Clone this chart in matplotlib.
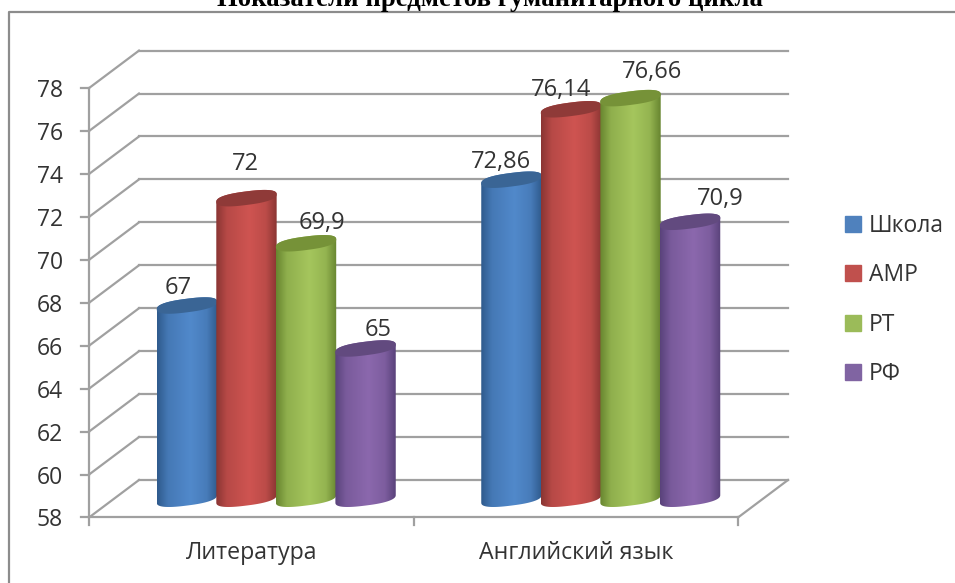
import numpy as np
import matplotlib
matplotlib.use("Agg")
import matplotlib.pyplot as plt
from matplotlib.lines import Line2D
from matplotlib.patches import Patch, Polygon
from matplotlib.colors import to_rgb

# Данные диаграммы
categories = ["Литература", "Английский язык"]
series_names = ["Школа", "АМР", "РТ", "РФ"]
shkola = [67, 72.86]
amr = [72, 76.14]
rt = [69.9, 76.66]
rf = [65, 70.9]
value_labels = [["67", "72,86"], ["72", "76,14"], ["69,9", "76,66"], ["65", "70,9"]]
y_ticks = [58, 60, 62, 64, 66, 68, 70, 72, 74, 76, 78]

title = "Показатели предметов гуманитарного цикла"

# Цвета: легенда, край, середина цилиндра, крышка
legend_colors = ["#4f81bd", "#c0504d", "#9bbb59", "#8064a2"]
dark_colors = ["#2f5a8c", "#8a3533", "#67852f", "#59427a"]
light_colors = ["#5189cb", "#cf5451", "#a5c65d", "#8b68ad"]
top_colors = ["#3a6595", "#8f3a38", "#769238", "#624a7f"]

# Сдвиг подписей над столбцами, в пикселях
label_shift = [
    [(-9, 18), (-10, 18)],
    [(-1, 34), (-10, 19)],
    [(16, 20), (21, 26)],
    [(13, 18), (30, 23)],
]

PX_X = 324.5  # пикселей на категорию
PX_Y = 21.47  # пикселей на единицу значения
X0, Y0 = 89, 517.5  # начало оси на картинке
DX = 50 / PX_X  # глубина
DY = 37.5 / PX_Y
BAR_STEP = 0.1835
BAR_W = 0.186
ELL_H = 6.8 / PX_Y
SHEAR = 3.8 / PX_Y
ROUND = 0.8  # крышка чуть квадратнее эллипса
GRID = "#a0a0a0"
TXT = "#333333"

plt.rcParams["font.family"] = ["Open Sans", "DejaVu Sans"]

fig = plt.figure(figsize=(9.55, 5.83), dpi=100)
ax = fig.add_axes([0, 0, 1, 1])
ax.set_axis_off()
xlim = (-X0 / PX_X, (955 - X0) / PX_X)
ylim = (58 - (583 - Y0) / PX_Y, 58 + Y0 / PX_Y)

# Стенки и сетка
for v in y_ticks:
    ax.plot([DX, 2 + DX], [v + DY, v + DY], color=GRID, lw=1.6, zorder=1)
    ax.plot([0, DX], [v, v + DY], color=GRID, lw=1.6, zorder=1)
    ax.plot([-8 / PX_X, 0], [v, v], color=GRID, lw=1.6, zorder=1)
    ax.text(-26 / PX_X, v, str(v), ha="right", va="center_baseline",
            fontsize=16.5, color=TXT)
ax.plot([0, 0], [58 - 8 / PX_Y, 78], color=GRID, lw=1.6, zorder=1)
ax.plot([0, 2], [58, 58], color=GRID, lw=1.6, zorder=1)
ax.plot([2, 2 + DX], [58, 58 + DY], color=GRID, lw=1.6, zorder=1)
for c in [1, 2]:
    ax.plot([c, c], [58 - 8 / PX_Y, 58], color=GRID, lw=1.6, zorder=1)


def rounded(t):
    c, s = np.cos(t), np.sin(t)
    return np.sign(c) * np.abs(c) ** ROUND, np.sign(s) * np.abs(s) ** ROUND


def cylinder(cx, value, dark, light, top, z):
    a = BAR_W / 2
    base = 58 + DY / 2
    high = value + DY / 2
    t = np.linspace(0, np.pi, 80)
    c, s = rounded(t)
    # нижняя дуга основания слева направо, верхняя дуга крышки обратно
    xb = cx - a * c
    yb = base - ELL_H * s - SHEAR * c
    xt = cx + a * c
    yt = high + ELL_H * s + SHEAR * c
    body = Polygon(np.column_stack([np.r_[xb, xt], np.r_[yb, yt]]),
                   closed=True, transform=ax.transData, fc="none", ec="none")
    ax.add_patch(body)

    d, l = np.array(to_rgb(dark)), np.array(to_rgb(light))
    pos = np.linspace(0, 1, 200)
    k = np.interp(pos, [0, 0.18, 0.55, 0.82, 1], [0, 0.65, 1, 0.72, 0])[:, None]
    grad = (d + (l - d) * k)[None, :, :]
    im = ax.imshow(grad, extent=(cx - a, cx + a, base - 2, high + 2), aspect="auto",
                   interpolation="bilinear", zorder=z)
    im.set_clip_path(body)

    c2, s2 = rounded(np.linspace(0, 2 * np.pi, 160))
    ax.fill(cx + a * c2, high + ELL_H * s2 + SHEAR * c2,
            color=top, lw=0, zorder=z + 0.5)


series = [shkola, amr, rt, rf]
z = 3
for i in range(len(categories)):
    for s, values in enumerate(series):
        cx = i + 0.5 + (s - 1.5) * BAR_STEP + DX / 2
        cylinder(cx, values[i], dark_colors[s], light_colors[s], top_colors[s], z)
        z += 1
        ax.annotate(value_labels[s][i], (cx, values[i] + DY / 2),
                    xytext=label_shift[s][i], textcoords="offset pixels",
                    ha="center", va="center", fontsize=17, color=TXT, zorder=50)

for i, name in enumerate(categories):
    ax.text(i + 0.5, 58 - 36 / PX_Y, name, ha="center", va="center",
            fontsize=16.7, color=TXT)

ax.set_xlim(xlim)
ax.set_ylim(ylim)

# Легенда
handles = [Patch(color=c, label=n) for c, n in zip(legend_colors, series_names)]
leg = ax.legend(handles=handles, loc="center left", bbox_to_anchor=(836 / 955, 1 - 300 / 583),
                frameon=False, fontsize=16.5, handlelength=0.7, handleheight=0.7,
                handletextpad=0.33, labelspacing=1.1, borderpad=0, borderaxespad=0.4,
                labelcolor=TXT)

# Рамка области диаграммы
fig.add_artist(Line2D([8.5 / 955, 8.5 / 955, 1], [0, 1 - 12 / 583, 1 - 12 / 583],
                      color="#8c8c8c", lw=1.6))

fig.text(490 / 955, 1 - 6 / 583, title, ha="center", va="baseline",
         family="Liberation Serif", weight="bold", fontsize=19.3, color="black")

fig.savefig("out.png", dpi=100)
